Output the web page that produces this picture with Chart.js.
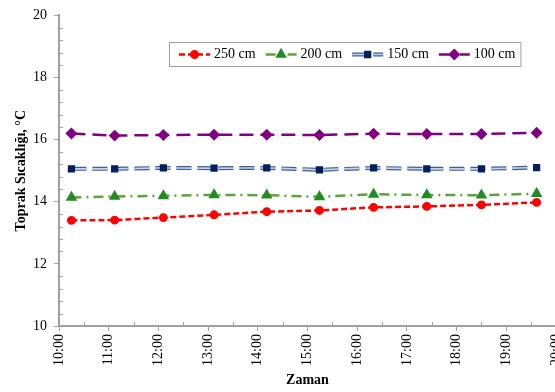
<!DOCTYPE html>
<html>
<head>
<meta charset="utf-8">
<script src="https://cdn.jsdelivr.net/npm/chart.js@4.4.1/dist/chart.umd.min.js"></script>
<style>
  html, body { margin: 0; padding: 0; background: #fff; overflow: hidden; }
  #wrap { width: 600px; height: 392px; position: relative; }
</style>
</head>
<body>
<div id="wrap"><canvas id="c"></canvas></div>
<script>
// saat (ondalik), olcum zamanlari
const hours = [10.25, 11.12, 12.1, 13.12, 14.18, 15.24, 16.33, 17.4, 18.5, 19.61]
const d250 = [13.4, 13.41, 13.49, 13.58, 13.68, 13.72, 13.82, 13.85, 13.9, 13.98]
const d200 = [14.14, 14.17, 14.19, 14.22, 14.21, 14.16, 14.24, 14.22, 14.21, 14.26]
const d150 = [15.06, 15.06, 15.09, 15.08, 15.09, 15.03, 15.09, 15.06, 15.06, 15.1]
const d100 = [16.2, 16.13, 16.15, 16.16, 16.16, 16.15, 16.19, 16.18, 16.18, 16.22]
const labels = ['250 cm', '200 cm', '150 cm', '100 cm']

const FONT = '"Liberation Serif", "Times New Roman", serif'
const AXIS = '#a0a0a0'

const pts = arr => arr.map((v, i) => ({ x: hours[i], y: v }))

// minor ticks, drawn inside the plot
const minorTicks = {
  id: 'minorTicks',
  afterDraw(chart) {
    const ctx = chart.ctx
    const x = chart.scales.x, y = chart.scales.y
    const a = chart.chartArea
    ctx.save()
    ctx.strokeStyle = AXIS
    ctx.lineWidth = 1
    ctx.beginPath()
    for (let v = 10.4; v < 20; v += 0.4) {
      if (Math.abs(v / 2 - Math.round(v / 2)) < 0.01) continue
      const py = Math.round(y.getPixelForValue(v)) + 0.5
      ctx.moveTo(a.left, py); ctx.lineTo(a.left + 4, py)
    }
    for (let h = 10.5; h < 20; h += 1) {
      const px = Math.round(x.getPixelForValue(h)) + 0.5
      ctx.moveTo(px, a.bottom); ctx.lineTo(px, a.bottom - 4)
    }
    ctx.stroke()
    ctx.restore()
  }
}

// legend in a bordered box inside the plot
const boxLegend = {
  id: 'boxLegend',
  afterDraw(chart) {
    const ctx = chart.ctx
    const left = 169, top = 42, h = 24, y = top + h / 2 + 0.5
    ctx.save()
    ctx.font = '14px ' + FONT
    const items = chart.data.datasets.filter(d => d.legendItem)
    let x = left + 10
    items.forEach(d => {
      const x0 = x, x1 = x + 31
      if (d.outlineColor) {
        ctx.setLineDash(d.borderDash || [])
        ctx.strokeStyle = d.outlineColor
        ctx.lineWidth = 4
        ctx.beginPath(); ctx.moveTo(x0, y); ctx.lineTo(x1, y); ctx.stroke()
      }
      ctx.setLineDash(d.borderDash || [])
      ctx.strokeStyle = d.borderColor
      ctx.lineWidth = d.borderWidth
      ctx.beginPath(); ctx.moveTo(x0, y); ctx.lineTo(x1, y); ctx.stroke()
      ctx.setLineDash([])
      ctx.fillStyle = d.pointBackgroundColor
      ctx.strokeStyle = d.pointBorderColor
      Chart.helpers.drawPoint(ctx, { pointStyle: d.pointStyle, radius: d.pointRadius, rotation: 0, borderWidth: 1 }, (x0 + x1) / 2, y)
      ctx.fillStyle = '#000'
      ctx.textBaseline = 'middle'
      ctx.fillText(d.label, x1 + 4, y)
      x = x1 + 4 + ctx.measureText(d.label).width + 10
    })
    ctx.setLineDash([])
    ctx.strokeStyle = AXIS
    ctx.lineWidth = 1
    ctx.strokeRect(left + 0.5, top + 0.5, x - 5 - left, h)
    ctx.restore()
  }
}

new Chart(document.getElementById('c'), {
  type: 'line',
  data: {
    datasets: [
      {
        label: labels[0], data: pts(d250), legendItem: true,
        borderColor: '#ff0000', borderWidth: 2.5, borderDash: [6, 3],
        pointStyle: 'circle', pointRadius: 3.2,
        pointBackgroundColor: '#ff0000', pointBorderColor: '#ff0000'
      },
      {
        label: labels[1], data: pts(d200), legendItem: true,
        borderColor: '#5ea33a', borderWidth: 2.5, borderDash: [10, 5, 2, 5],
        pointStyle: 'triangle', pointRadius: 4.2,
        pointBackgroundColor: '#228b22', pointBorderColor: '#228b22'
      },
      {
        // inner light part of the double line, drawn above its outline
        label: labels[2], data: pts(d150), legendItem: true, outlineColor: '#3d5f93',
        borderColor: '#c9d3e8', borderWidth: 1.6, borderDash: [15, 6],
        pointStyle: 'rect', pointRadius: 4,
        pointBackgroundColor: '#002060', pointBorderColor: '#002060'
      },
      {
        label: '', data: pts(d150),
        borderColor: '#3d5f93', borderWidth: 4, borderDash: [15, 6],
        pointRadius: 0
      },
      {
        label: labels[3], data: pts(d100), legendItem: true,
        borderColor: '#800080', borderWidth: 2.5, borderDash: [14, 7],
        pointStyle: 'rectRot', pointRadius: 4.2,
        pointBackgroundColor: '#800080', pointBorderColor: '#800080'
      }
    ]
  },
  options: {
    responsive: true,
    maintainAspectRatio: false,
    animation: false,
    layout: { padding: { top: 12, left: 0, right: 44, bottom: 0 } },
    plugins: {
      legend: { display: false },
      tooltip: { enabled: false }
    },
    scales: {
      x: {
        type: 'linear', min: 10, max: 20,
        afterFit: s => { s.height = 66 },
        ticks: {
          stepSize: 1, maxRotation: 90, minRotation: 90, padding: 3,
          color: '#000', font: { family: FONT, size: 14 },
          callback: v => v + ':00'
        },
        grid: { drawOnChartArea: false, tickLength: 5, tickColor: AXIS, tickWidth: 1 },
        border: { color: AXIS, width: 2 },
        title: {
          display: true, text: 'Zaman', color: '#000',
          font: { family: FONT, size: 14, weight: 'bold' },
          padding: { top: 3, bottom: 3 }
        }
      },
      y: {
        min: 10, max: 20,
        afterFit: s => { s.width = 59 },
        ticks: {
          stepSize: 2, padding: 7,
          color: '#000', font: { family: FONT, size: 14 }
        },
        grid: { drawOnChartArea: false, tickLength: 5, tickColor: AXIS, tickWidth: 1 },
        border: { color: AXIS, width: 2 },
        title: {
          display: true, text: 'Toprak Sıcaklığı, °C', color: '#000',
          font: { family: FONT, size: 14, weight: 'bold' },
          padding: { top: 13, bottom: 13 }
        }
      }
    }
  },
  plugins: [minorTicks, boxLegend]
})
</script>
</body>
</html>
